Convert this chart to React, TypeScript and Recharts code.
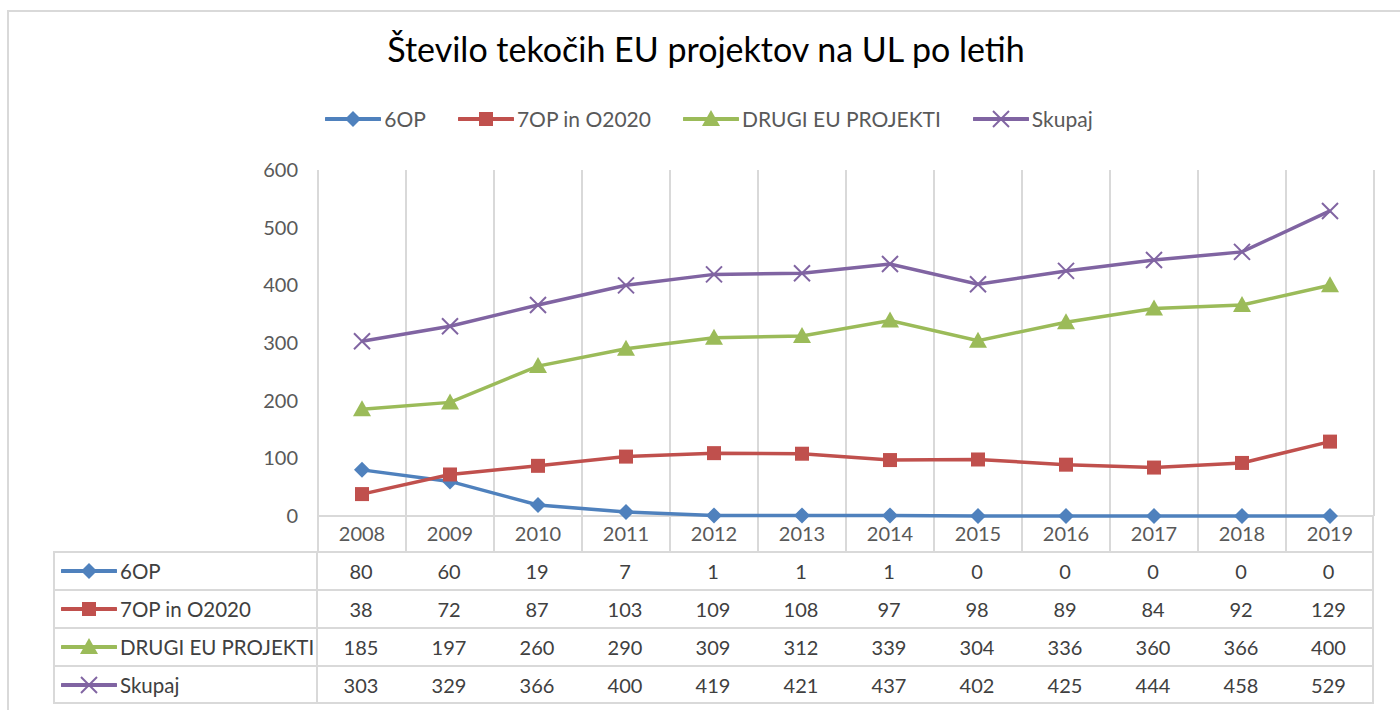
import { LineChart, Line, XAxis, YAxis, CartesianGrid } from "recharts";

const years = ["2008", "2009", "2010", "2011", "2012", "2013", "2014", "2015", "2016", "2017", "2018", "2019"];
const op6 = [80, 60, 19, 7, 1, 1, 1, 0, 0, 0, 0, 0];
const op7 = [38, 72, 87, 103, 109, 108, 97, 98, 89, 84, 92, 129];
const drugi = [185, 197, 260, 290, 309, 312, 339, 304, 336, 360, 366, 400];
const skupaj = [303, 329, 366, 400, 419, 421, 437, 402, 425, 444, 458, 529];
const yTicks = [0, 100, 200, 300, 400, 500, 600];

type Shape = "diamond" | "square" | "triangle" | "cross";

const series = [
  { key: "op6", name: "6OP", color: "#4F81BD", shape: "diamond" as Shape, values: op6 },
  { key: "op7", name: "7OP in O2020", color: "#C0504D", shape: "square" as Shape, values: op7 },
  { key: "drugi", name: "DRUGI EU PROJEKTI", color: "#9BBB59", shape: "triangle" as Shape, values: drugi },
  { key: "skupaj", name: "Skupaj", color: "#8064A2", shape: "cross" as Shape, values: skupaj },
];

const chartData = years.map((year, i) => {
  const row: any = { year };
  series.forEach(s => (row[s.key] = s.values[i]));
  return row;
});

const FONT = "Lato, 'Open Sans', sans-serif";
const GRID = "#d9d9d9";

function Marker({ shape, color, cx, cy }: { shape: Shape; color: string; cx: number; cy: number }) {
  if (shape === "diamond") {
    return <polygon points={`${cx},${cy - 8} ${cx + 8},${cy} ${cx},${cy + 8} ${cx - 8},${cy}`} fill={color} />;
  }
  if (shape === "square") {
    return <rect x={cx - 7} y={cy - 7} width={14} height={14} fill={color} />;
  }
  if (shape === "triangle") {
    return <polygon points={`${cx},${cy - 9} ${cx + 9},${cy + 7} ${cx - 9},${cy + 7}`} fill={color} />;
  }
  return (
    <g stroke={color} strokeWidth={2}>
      <line x1={cx - 8} y1={cy - 8} x2={cx + 8} y2={cy + 8} />
      <line x1={cx - 8} y1={cy + 8} x2={cx + 8} y2={cy - 8} />
    </g>
  );
}

function makeDot(shape: Shape, color: string) {
  return (props: any) => {
    const { cx, cy, index } = props;
    if (cx == null || cy == null) return <g key={index} />;
    return <Marker key={index} shape={shape} color={color} cx={cx} cy={cy} />;
  };
}

function LegendIcon({ shape, color }: { shape: Shape; color: string }) {
  return (
    <svg width={56} height={20} style={{ display: "block" }}>
      <line x1={1} y1={10} x2={55} y2={10} stroke={color} strokeWidth={4} strokeLinecap="round" />
      <Marker shape={shape} color={color} cx={28} cy={10} />
    </svg>
  );
}

const TopLegend = () => (
  <div
    style={{
      position: "absolute",
      left: 0,
      top: 106,
      width: 1418,
      display: "flex",
      justifyContent: "center",
      gap: 32,
      fontFamily: FONT,
      fontSize: 21,
      color: "#595959",
    }}
  >
    {series.map(s => (
      <div key={s.key} style={{ display: "flex", alignItems: "center", gap: 3 }}>
        <LegendIcon shape={s.shape} color={s.color} />
        <span>{s.name}</span>
      </div>
    ))}
  </div>
);

const LEFT = 318;
const COL = 88;
const cellBorder = `2px solid ${GRID}`;

function DataTable() {
  return (
    <div style={{ position: "absolute", left: 0, top: 0, fontFamily: FONT, fontSize: 20, color: "#404040" }}>
      {/* year row borders (labels drawn by the x axis); top border doubles as the zero line */}
      {years.map((y, i) => (
        <div
          key={y}
          style={{
            position: "absolute",
            left: LEFT + i * COL - 1,
            top: 515,
            width: COL + (i === years.length - 1 ? 1 : 0),
            height: 37,
            borderTop: cellBorder,
            borderLeft: cellBorder,
            borderRight: i === years.length - 1 ? cellBorder : undefined,
            boxSizing: "border-box",
          }}
        />
      ))}
      {series.map((s, r) => (
        <div key={s.key}>
          <div
            style={{
              position: "absolute",
              left: 53,
              top: 552 + r * 38 - 1,
              width: LEFT - 53,
              height: 38 + (r === series.length - 1 ? 1 : 0),
              border: cellBorder,
              borderBottom: r === series.length - 1 ? cellBorder : "none",
              boxSizing: "border-box",
              display: "flex",
              alignItems: "center",
              paddingLeft: 6,
              fontSize: 20.5,
            }}
          >
            <LegendIcon shape={s.shape} color={s.color} />
            <span style={{ marginLeft: 3 }}>{s.name}</span>
          </div>
          {s.values.map((v, i) => (
            <div
              key={i}
              style={{
                position: "absolute",
                left: LEFT + i * COL - 1,
                top: 552 + r * 38 - 1,
                width: COL + (i === years.length - 1 ? 1 : 0),
                height: 38 + (r === series.length - 1 ? 1 : 0),
                borderTop: cellBorder,
                borderRight: i === years.length - 1 ? cellBorder : "none",
                borderLeft: "none",
                borderBottom: r === series.length - 1 ? cellBorder : "none",
                boxSizing: "border-box",
                display: "flex",
                alignItems: "center",
                justifyContent: "center",
              }}
            >
              {v}
            </div>
          ))}
        </div>
      ))}
    </div>
  );
}

export default function App() {
  return (
    <div style={{ position: "absolute", left: 0, top: 0, width: 1400, height: 710, overflow: "hidden", background: "#fff" }}>
      <div
        style={{
          position: "absolute",
          left: 7,
          top: 10,
          width: 1420,
          height: 740,
          border: `2px solid ${GRID}`,
          boxSizing: "border-box",
        }}
      />
      <div
        style={{
          position: "absolute",
          left: 0,
          top: 28,
          width: 1412,
          textAlign: "center",
          fontFamily: FONT,
          fontSize: 34,
          color: "#000",
        }}
      >
        Število tekočih EU projektov na UL po letih
      </div>
      <TopLegend />
      <DataTable />
      <div style={{ position: "absolute", left: 0, top: 0 }}>
        <LineChart width={1400} height={710} data={chartData} margin={{ top: 170, right: 26, left: 258, bottom: 158 }}>
          <CartesianGrid
            horizontal={false}
            stroke={GRID}
            strokeWidth={2}
            verticalCoordinatesGenerator={({ offset }: any) =>
              Array.from({ length: years.length + 1 }, (_, i) => offset.left + (i * offset.width) / years.length)
            }
          />
          <XAxis
            dataKey="year"
            height={36}
            padding={{ left: 44, right: 44 }}
            tickLine={false}
            tickSize={0}
            tickMargin={11}
            axisLine={false}
            tick={{ fill: "#595959", fontSize: 20, fontFamily: FONT }}
            interval={0}
          />
          <YAxis
            width={60}
            domain={[0, 600]}
            ticks={yTicks}
            tickLine={false}
            tickSize={0}
            tickMargin={20}
            axisLine={false}
            tick={{ fill: "#595959", fontSize: 20, fontFamily: FONT }}
          />
          {series.map(s => (
            <Line
              key={s.key}
              type="linear"
              dataKey={s.key}
              name={s.name}
              stroke={s.color}
              strokeWidth={3.5}
              dot={makeDot(s.shape, s.color)}
              activeDot={false}
              isAnimationActive={false}
            />
          ))}
        </LineChart>
      </div>
    </div>
  );
}
